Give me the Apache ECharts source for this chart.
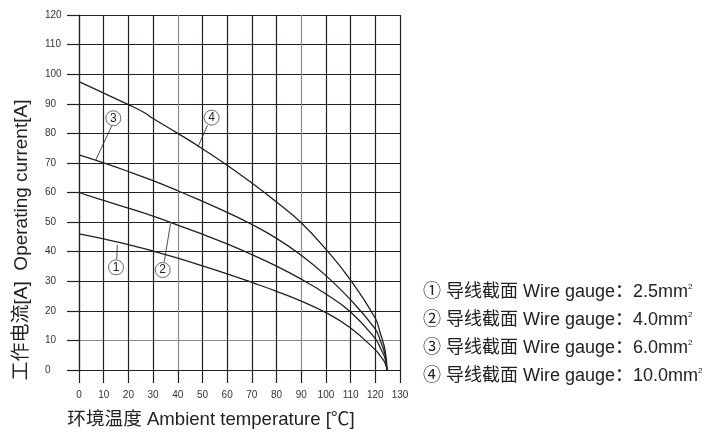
<!DOCTYPE html>
<html>
<head>
<meta charset="utf-8">
<script src="https://cdn.jsdelivr.net/npm/echarts@6/dist/echarts.min.js"></script>
<style>html,body{margin:0;padding:0;background:#fff;}#c{width:716px;height:432px;}</style>
</head>
<body>
<div id="c"></div>
<script>
// ---- data ----
const temperature = [0, 10, 20, 30, 40, 50, 60, 70, 80, 90, 100, 110, 120, 122, 124, 124.7];
const gauge25 = [46.0, 44.3, 42.4, 40.2, 37.8, 35.2, 32.5, 29.6, 26.6, 23.3, 19.4, 14.2, 6.8, 4.8, 2.3, 0];
const gauge40 = [60.0, 57.3, 54.7, 52.0, 49.0, 45.9, 42.6, 39.0, 35.1, 30.7, 25.7, 19.6, 10.6, 7.5, 3.8, 0];
const gauge60 = [72.7, 70.0, 67.1, 64.0, 60.6, 57.0, 53.3, 49.2, 44.5, 38.8, 31.9, 23.7, 13.8, 10.0, 5.0, 0];
const temperature100 = [0, 10, 20, 26, 30, 40, 50, 60, 70, 80, 90, 100, 110, 120, 122, 124, 124.7];
const gauge100 = [97.5, 93.6, 89.7, 87.2, 85.0, 80.0, 74.8, 69.2, 63.2, 56.8, 49.8, 40.8, 30.4, 17.5, 12.5, 6.5, 0];
const xTicks = [0, 10, 20, 30, 40, 50, 60, 70, 80, 90, 100, 110, 120, 130];
const yTicks = [0, 10, 20, 30, 40, 50, 60, 70, 80, 90, 100, 110, 120];
const curveNames = ['1', '2', '3', '4'];
// callouts: [label position, leader start, leader end] in data coordinates
const callouts = [
  [[15.0, 34.7], [15.3, 37.4], [15.5, 42.3]],
  [[33.9, 33.8], [34.5, 36.6], [37.1, 49.6]],
  [[13.9, 85.1], [13.2, 82.4], [6.8, 71.0]],
  [[53.7, 85.3], [52.0, 82.7], [48.1, 75.3]]
];
const legendLabels = [
  '① 导线截面 Wire gauge：2.5mm',
  '② 导线截面 Wire gauge：4.0mm',
  '③ 导线截面 Wire gauge：6.0mm',
  '④ 导线截面 Wire gauge：10.0mm'
];
const xName = '环境温度 Ambient temperature [℃]';
const yName = '工作电流[A]  Operating current[A]';

// ---- styles ----
const INK = '#231f20';
const GRAY = '#8c8c8c';
const FONT = "'Liberation Sans', 'Noto Sans CJK SC', sans-serif";

const pair = (xs, ys) => xs.map((x, i) => [x, ys[i]]);
const seriesData = [
  pair(temperature, gauge25),
  pair(temperature, gauge40),
  pair(temperature, gauge60),
  pair(temperature100, gauge100)
];

const xSplitColors = xTicks.map(v => (v === 40 || v === 90) ? GRAY : INK);
const ySplitColors = yTicks.map(v => (v === 10) ? GRAY : INK);

const series = seriesData.map((d, i) => ({
  type: 'line',
  name: curveNames[i],
  data: d,
  showSymbol: false,
  smooth: 0.45,
  lineStyle: { color: INK, width: 1.3 },
  z: 3,
  silent: true,
  markLine: {
    silent: true,
    symbol: ['none', 'none'],
    label: { show: false },
    lineStyle: { color: INK, width: 0.8, type: 'solid' },
    data: [[{ coord: callouts[i][1] }, { coord: callouts[i][2] }]]
  },
  markPoint: {
    silent: true,
    symbol: 'circle',
    symbolSize: 15,
    itemStyle: { color: '#fff', borderColor: '#444', borderWidth: 0.8 },
    label: { show: true, position: 'inside', color: '#222', fontSize: 12, fontFamily: FONT, formatter: curveNames[i] },
    data: [{ coord: callouts[i][0] }]
  }
}));

const chart = echarts.init(document.getElementById('c'), null, { renderer: 'canvas' });
const option = {
  animation: false,
  backgroundColor: '#fff',
  grid: { left: 79, right: 316, top: 15, bottom: 62, containLabel: false },
  xAxis: {
    type: 'value', min: 0, max: 130, interval: 10,
    axisLine: { show: true, lineStyle: { color: INK, width: 1.2 } },
    axisTick: { show: true, length: 13, lineStyle: { color: INK, width: 1.2 } },
    axisLabel: { color: '#333', fontSize: 10, fontFamily: FONT, margin: 20 },
    splitLine: { show: true, lineStyle: { color: xSplitColors, width: 1.2 } }
  },
  yAxis: {
    type: 'value', min: 0, max: 120, interval: 10,
    axisLine: { show: true, lineStyle: { color: INK, width: 1.2 } },
    axisTick: { show: true, length: 12, lineStyle: { color: INK, width: 1.2 } },
    axisLabel: { color: '#333', fontSize: 10, fontFamily: FONT, margin: 34, align: 'left' },
    splitLine: { show: true, lineStyle: { color: ySplitColors, width: 1.2 } }
  },
  series: series,
  graphic: [
    {
      type: 'text', x: 211, y: 420, silent: true,
      style: { text: xName, fill: '#222', font: '18.6px ' + FONT, textAlign: 'center', textVerticalAlign: 'middle' }
    },
    {
      type: 'text', x: 22, y: 240, rotation: Math.PI / 2, silent: true,
      style: { text: yName, fill: '#222', font: '19px ' + FONT, textAlign: 'center', textVerticalAlign: 'middle' }
    }
  ].concat(legendLabels.map((t, i) => ({
    type: 'text', x: 423, y: 292 + i * 28, silent: true,
    style: {
      text: t + '{sup|2}',
      fill: '#222', fontSize: 18, fontFamily: FONT,
      textVerticalAlign: 'middle',
      rich: { sup: { fontSize: 8, fill: '#222', fontFamily: FONT, padding: [0, 0, 11, 0] } }
    }
  })))
};
chart.setOption(option);
</script>
</body>
</html>
